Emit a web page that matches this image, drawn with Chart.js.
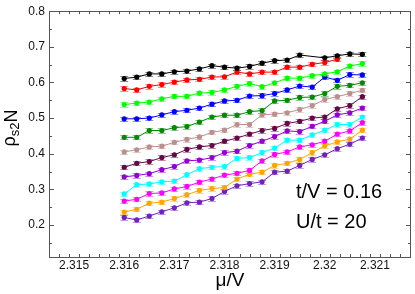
<!DOCTYPE html>
<html>
<head>
<meta charset="utf-8">
<script src="https://cdn.jsdelivr.net/npm/chart.js@4/dist/chart.umd.min.js"></script>
<style>
    html, body { margin: 0; padding: 0; background: #fff; }
    #wrap { width: 415px; height: 294px; }
</style>
</head>
<body>
<div id="wrap"><canvas id="rhoChart" width="415" height="294"></canvas></div>
<script>
// mu/V values, shared by all curves
const muValues = [2.316, 2.31625, 2.3165, 2.31675, 2.317, 2.31725, 2.3175, 2.31775, 2.318, 2.31825,
                  2.3185, 2.31875, 2.319, 2.31925, 2.3195, 2.31975, 2.32, 2.32025, 2.3205, 2.32075];

// axis ticks
const xTicks = [2.315, 2.316, 2.317, 2.318, 2.319, 2.32, 2.321];
const yTicks = [0.2, 0.3, 0.4, 0.5, 0.6, 0.7, 0.8];

// rho_s2 N for each curve (top to bottom)
const rhoBlack = [0.611, 0.615, 0.624, 0.624, 0.630, 0.632, 0.638, 0.647, 0.643, 0.640,
                  0.645, 0.654, 0.661, 0.663, 0.677, null, 0.669, 0.675, 0.680, 0.679];
const rhoRed = [0.583, 0.579, 0.589, 0.594, 0.601, 0.607, 0.609, 0.615, 0.616, 0.629,
                0.624, 0.629, 0.629, 0.643, 0.643, 0.651, 0.656, 0.665];
const rhoGreen = [0.538, 0.542, 0.545, 0.554, 0.561, 0.561, 0.570, 0.572, 0.579, 0.589,
                  0.597, 0.588, 0.599, 0.612, 0.612, 0.619, 0.624, 0.630, 0.646, 0.653];
const rhoBlue = [0.498, 0.498, 0.500, 0.509, 0.518, 0.522, 0.528, 0.539, 0.548, 0.550,
                 0.562, 0.563, 0.569, 0.579, 0.590, 0.587, 0.615, 0.606, 0.622, 0.621];
const rhoDarkGreen = [0.446, 0.446, 0.465, 0.465, 0.473, 0.476, 0.489, 0.503, 0.508, 0.508,
                      0.518, 0.521, 0.548, 0.550, 0.558, 0.559, 0.569, 0.589, 0.592, 0.599];
const rhoBrown = [0.405, 0.411, 0.419, 0.421, 0.432, 0.440, 0.447, 0.460, 0.466, 0.482,
                  0.482, 0.509, 0.511, 0.515, 0.524, 0.535, 0.552, 0.560, 0.569, 0.578];
const rhoMaroon = [0.362, 0.373, 0.378, 0.389, 0.397, 0.412, 0.419, 0.423, 0.435, 0.444,
                   0.455, 0.465, 0.471, 0.485, 0.491, 0.500, 0.503, 0.526, 0.535, 0.560];
const rhoViolet = [0.335, 0.339, 0.344, 0.355, 0.364, 0.380, 0.382, 0.389, 0.403, 0.407,
                   0.423, 0.435, 0.448, 0.464, 0.462, 0.477, 0.491, 0.509, 0.515, 0.528];
const rhoCyan = [0.287, 0.313, 0.315, 0.321, 0.323, 0.341, 0.358, 0.362, 0.364, 0.387,
                 0.389, 0.403, 0.416, 0.438, 0.438, 0.453, 0.466, 0.482, 0.482, 0.503];
const rhoMagenta = [0.267, 0.272, 0.288, 0.290, 0.301, 0.308, 0.320, 0.329, 0.340, 0.345,
                    0.353, 0.380, 0.398, 0.405, 0.419, 0.425, 0.435, 0.455, 0.464, 0.487];
const rhoOrange = [0.236, 0.244, 0.261, 0.264, 0.274, 0.285, 0.297, 0.302, 0.305, 0.329,
                   0.342, 0.348, 0.367, 0.373, 0.384, 0.403, 0.422, 0.433, 0.441, 0.466];
const rhoIndigo = [0.221, 0.214, 0.225, 0.237, 0.248, 0.262, 0.264, 0.274, 0.294, 0.310,
                   0.316, 0.321, 0.348, 0.351, 0.367, 0.384, 0.397, 0.414, 0.427, 0.444];

const curves = [rhoBlack, rhoRed, rhoGreen, rhoBlue, rhoDarkGreen, rhoBrown,
                rhoMaroon, rhoViolet, rhoCyan, rhoMagenta, rhoOrange, rhoIndigo];
const curveColors = ['#000000', '#ff0000', '#00ff00', '#0000ff', '#008b00', '#bc8f8f',
                     '#670748', '#9400d3', '#00ffff', '#ff00ff', '#ffa500', '#7221bc'];

// size of the statistical error bars
const errorBar = 0.006;

const FONT = '"Liberation Sans", Arial, Helvetica, sans-serif';

// Frame, inward ticks, axis titles, error bars and the parameter labels
const decorPlugin = {
    id: 'decor',
    beforeDatasetsDraw(chart) {
        const ctx = chart.ctx;
        const yScale = chart.scales.y;
        ctx.save();
        ctx.lineWidth = 1;
        ctx.globalAlpha = 0.45;
        chart.data.datasets.forEach((ds, i) => {
            const meta = chart.getDatasetMeta(i);
            ctx.strokeStyle = ds.borderColor;
            meta.data.forEach((pt, j) => {
                const v = ds.data[j].y;
                if (v === null) return;
                const yTop = yScale.getPixelForValue(v + errorBar);
                const yBot = yScale.getPixelForValue(v - errorBar);
                ctx.beginPath();
                ctx.moveTo(pt.x, yTop);
                ctx.lineTo(pt.x, yBot);
                ctx.moveTo(pt.x - 4, Math.round(yTop) + 0.5);
                ctx.lineTo(pt.x + 4, Math.round(yTop) + 0.5);
                ctx.moveTo(pt.x - 4, Math.round(yBot) + 0.5);
                ctx.lineTo(pt.x + 4, Math.round(yBot) + 0.5);
                ctx.stroke();
            });
        });
        ctx.restore();
    },
    afterDraw(chart) {
        const ctx = chart.ctx;
        const a = chart.chartArea;
        const xs = chart.scales.x;
        const ys = chart.scales.y;
        ctx.save();
        ctx.strokeStyle = '#555';
        ctx.lineWidth = 1;
        ctx.strokeRect(Math.round(a.left) + 0.5, Math.round(a.top) + 0.5,
                       Math.round(a.right - a.left) - 1, Math.round(a.bottom - a.top));

        ctx.beginPath();
        // x ticks: major every 0.001, minor every 0.0002
        for (let k = 0; k <= 40; k++) {
            const v = 2.3145 + k * 0.0002;
            if (v < xs.min || v > xs.max) continue;
            const px = Math.round(xs.getPixelForValue(v)) + 0.5;
            const major = Math.abs(Math.round(v * 1000) - v * 1000) < 1e-6;
            const len = major ? 5 : 3;
            ctx.moveTo(px, a.bottom);
            ctx.lineTo(px, a.bottom - len);
            ctx.moveTo(px, a.top);
            ctx.lineTo(px, a.top + len);
        }
        // y ticks: major every 0.1, minor every 0.05
        for (let k = 3; k <= 16; k++) {
            const v = k * 0.05;
            const py = Math.round(ys.getPixelForValue(v)) + 0.5;
            const len = k % 2 === 0 ? 5 : 3;
            ctx.moveTo(a.left, py);
            ctx.lineTo(a.left + len, py);
            ctx.moveTo(a.right, py);
            ctx.lineTo(a.right - len, py);
        }
        ctx.stroke();

        // axis titles
        ctx.fillStyle = '#000';
        ctx.font = '19px ' + FONT;
        ctx.textAlign = 'center';
        ctx.textBaseline = 'middle';
        ctx.fillText('\u03bc/V', (a.left + a.right) / 2, 281);

        // y title: rho with subscript s2, then N
        ctx.save();
        ctx.translate(17, 128);
        ctx.rotate(-Math.PI / 2);
        ctx.textAlign = 'left';
        ctx.textBaseline = 'alphabetic';
        const big = '18px ' + FONT;
        const small = '13px ' + FONT;
        ctx.font = big;
        const wRho = ctx.measureText('\u03c1').width;
        const wN = ctx.measureText('N').width;
        ctx.font = small;
        const wSub = ctx.measureText('s2').width;
        let x0 = -(wRho + wSub + wN) / 2;
        ctx.font = big;
        ctx.fillText('\u03c1', x0, -2);
        ctx.font = small;
        ctx.fillText('s2', x0 + wRho, 2);
        ctx.font = big;
        ctx.fillText('N', x0 + wRho + wSub, 0);
        ctx.restore();

        // parameters
        ctx.font = '20px ' + FONT;
        ctx.textAlign = 'left';
        ctx.fillText('t/V = 0.16', 296, 192);
        ctx.fillText('U/t = 20', 296, 222);
        ctx.restore();
    }
};

function initRhoChart() {
    const datasets = curves.map((vals, i) => ({
        data: vals.map((v, j) => ({ x: muValues[j], y: v })),
        borderColor: curveColors[i],
        backgroundColor: curveColors[i],
        borderWidth: 1,
        pointRadius: 2.6,
        pointBorderWidth: 0,
        spanGaps: true,
        tension: 0
    }));

    const ctx = document.getElementById('rhoChart').getContext('2d');
    new Chart(ctx, {
        type: 'line',
        data: { datasets: datasets },
        options: {
            responsive: false,
            animation: false,
            layout: { padding: { left: 0, right: 3, top: 4.5, bottom: 0 } },
            plugins: {
                legend: { display: false },
                tooltip: { enabled: false }
            },
            scales: {
                x: {
                    type: 'linear',
                    min: 2.3145,
                    max: 2.32172,
                    grid: { display: false, drawTicks: false },
                    border: { display: false },
                    afterBuildTicks: scale => {
                        scale.ticks = xTicks.map(v => ({ value: v }));
                    },
                    afterFit: scale => { scale.height = 37; },
                    ticks: {
                        padding: 1,
                        color: '#111',
                        maxRotation: 0,
                        autoSkip: false,
                        font: { family: FONT, size: 12 },
                        callback: v => String(Number(v.toFixed(3)))
                    }
                },
                y: {
                    min: 0.11,
                    max: 0.8,
                    grid: { display: false, drawTicks: false },
                    border: { display: false },
                    afterBuildTicks: scale => {
                        scale.ticks = yTicks.map(v => ({ value: v }));
                    },
                    afterFit: scale => { scale.width = 49; },
                    ticks: {
                        padding: 4,
                        color: '#111',
                        font: { family: FONT, size: 12 },
                        callback: v => v.toFixed(1)
                    }
                }
            }
        },
        plugins: [decorPlugin]
    });
}

document.addEventListener('DOMContentLoaded', initRhoChart);
</script>
</body>
</html>
